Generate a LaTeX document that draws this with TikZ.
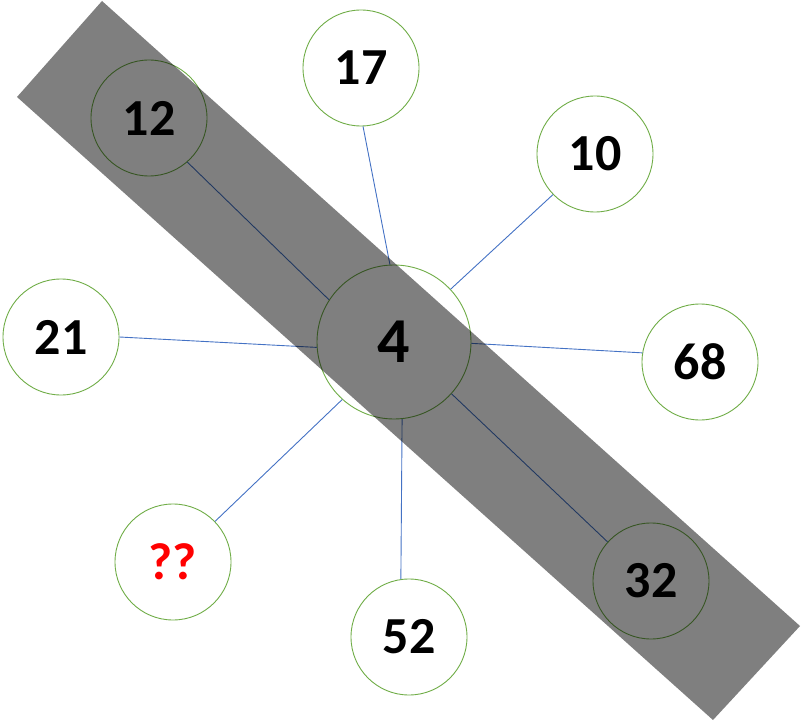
\documentclass[tikz,border=0pt]{standalone}
\usepackage{fontspec}
\setmainfont{Carlito}
\usepackage{tikz}

\definecolor{ringgreen}{HTML}{70AD47}
\definecolor{linkblue}{HTML}{4472C4}

\begin{document}
\begin{tikzpicture}[x=1pt,y=-1pt,
  ball/.style={circle,draw=ringgreen,line width=0.9pt,fill=white,inner sep=0pt,
    minimum size=116pt,font=\fontsize{52}{52}\selectfont\bfseries},
  link/.style={draw=linkblue,line width=0.9pt}]
\useasboundingbox (0,0) rectangle (801,722);

\node[ball,minimum size=154pt,font=\fontsize{64}{64}\selectfont\bfseries] (n4) at (394,342) {4};
\node[ball] (n12) at (149,118) {12};
\node[ball] (n17) at (361,68) {17};
\node[ball] (n10) at (595,154) {10};
\node[ball] (n21) at (61,337) {21};
\node[ball] (n68) at (700,362) {68};
\node[ball,text=red] (nq) at (173,562) {??};
\node[ball] (n52) at (409,637) {52};
\node[ball] (n32) at (651,581) {32};

\draw[link] (n4.147) -- (n12.-49);
\draw[link] (n4.93) -- (n17.-88);
\draw[link] (n4.43) -- (n10.224);
\draw[link] (n4.184) -- (n21.0);
\draw[link] (n4.-1) -- (n68.171);
\draw[link] (n4.228) -- (nq.44);
\draw[link] (n4.-84) -- (n52.98);
\draw[link] (n4.-42) -- (n32.138);

\fill[black,fill opacity=0.5] (102,1) -- (17,97) -- (713,720) -- (800,626) -- cycle;
\end{tikzpicture}
\end{document}
